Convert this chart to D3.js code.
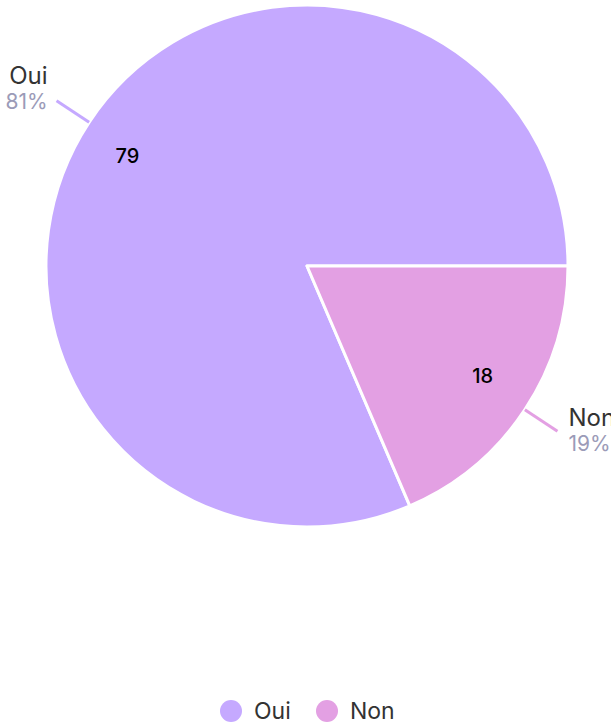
<!DOCTYPE html>
<html>
<head>
<meta charset="utf-8">
<script src="https://cdn.jsdelivr.net/npm/d3@7"></script>
<style>
  body { margin: 0; background: #fff; }
  svg { display: block; font-family: "Inter", "Noto Sans", sans-serif; }
</style>
</head>
<body>
<script>
// data
const categories = ["Oui", "Non"];
const counts = [79, 18];
const sliceColors = ["#c5a9ff", "#e3a0e3"];

const width = 611;
const height = 725;
const cx = 307;
const cy = 266;
const radius = 261;

const svg = d3.select("body").append("svg")
  .attr("width", width)
  .attr("height", height);

const total = d3.sum(counts);
const color = d3.scaleOrdinal().domain(categories).range(sliceColors);

// first slice ends at 3 o'clock
const start = Math.PI / 2 - 2 * Math.PI * counts[0] / total;
const pie = d3.pie().sort(null).value(d => d.value)
  .startAngle(start).endAngle(start + 2 * Math.PI);

const data = categories.map((c, i) => ({ name: c, value: counts[i] }));
const arcs = pie(data);

const arc = d3.arc().innerRadius(0).outerRadius(radius);
const g = svg.append("g").attr("transform", `translate(${cx},${cy})`);

g.selectAll("path.slice")
  .data(arcs)
  .join("path")
  .attr("class", "slice")
  .attr("d", arc)
  .attr("fill", d => color(d.data.name))
  .attr("stroke", "#fff")
  .attr("stroke-width", 3)
  .attr("stroke-linejoin", "round");

// values inside (set a little before the mid angle)
const innerArc = d3.arc().innerRadius(radius * 0.8).outerRadius(radius * 0.8);
const labelPos = d => {
  const a = (d.startAngle + d.endAngle) / 2 - 0.03;
  return innerArc.centroid({ startAngle: a, endAngle: a });
};
g.selectAll("text.val")
  .data(arcs)
  .join("text")
  .attr("class", "val")
  .attr("x", d => labelPos(d)[0] - 2)
  .attr("y", d => labelPos(d)[1])
  .attr("text-anchor", "middle")
  .attr("dy", "0.35em")
  .style("font-size", "20px")
  .style("font-weight", 500)
  .style("fill", "#000")
  .text(d => d.value);

// outside labels with connectors
const edgeArc = d3.arc().innerRadius(radius).outerRadius(radius);
const outArc = d3.arc().innerRadius(radius + 39).outerRadius(radius + 39);

arcs.forEach(d => {
  const mid = (d.startAngle + d.endAngle) / 2;
  const left = Math.sin(mid) < 0;
  const p1 = edgeArc.centroid(d);
  const p2 = outArc.centroid(d);
  g.append("line")
    .attr("x1", p1[0]).attr("y1", p1[1])
    .attr("x2", p2[0]).attr("y2", p2[1])
    .attr("stroke", color(d.data.name))
    .attr("stroke-width", 3);

  const tx = left ? p2[0] - 9 : p2[0] + 11;
  const ty = left ? p2[1] - 17 : p2[1] - 5;
  const anchor = left ? "end" : "start";
  g.append("text")
    .attr("x", tx).attr("y", ty)
    .attr("text-anchor", anchor)
    .style("font-size", "24px")
    .style("fill", "#333")
    .text(d.data.name);
  g.append("text")
    .attr("x", tx).attr("y", ty + 25)
    .attr("text-anchor", anchor)
    .style("font-size", "21px")
    .style("fill", "#9b9bb8")
    .text(Math.round(d.value / total * 100) + "%");
});

// legend
const legendX = [231, 327];
const legend = svg.append("g").attr("transform", "translate(0,711)");
categories.forEach((c, i) => {
  legend.append("circle")
    .attr("cx", legendX[i]).attr("cy", 0).attr("r", 11)
    .attr("fill", color(c));
  legend.append("text")
    .attr("x", legendX[i] + 23).attr("y", 0)
    .attr("dy", "0.35em")
    .style("font-size", "23px")
    .style("fill", "#333")
    .text(c);
});
</script>
</body>
</html>
